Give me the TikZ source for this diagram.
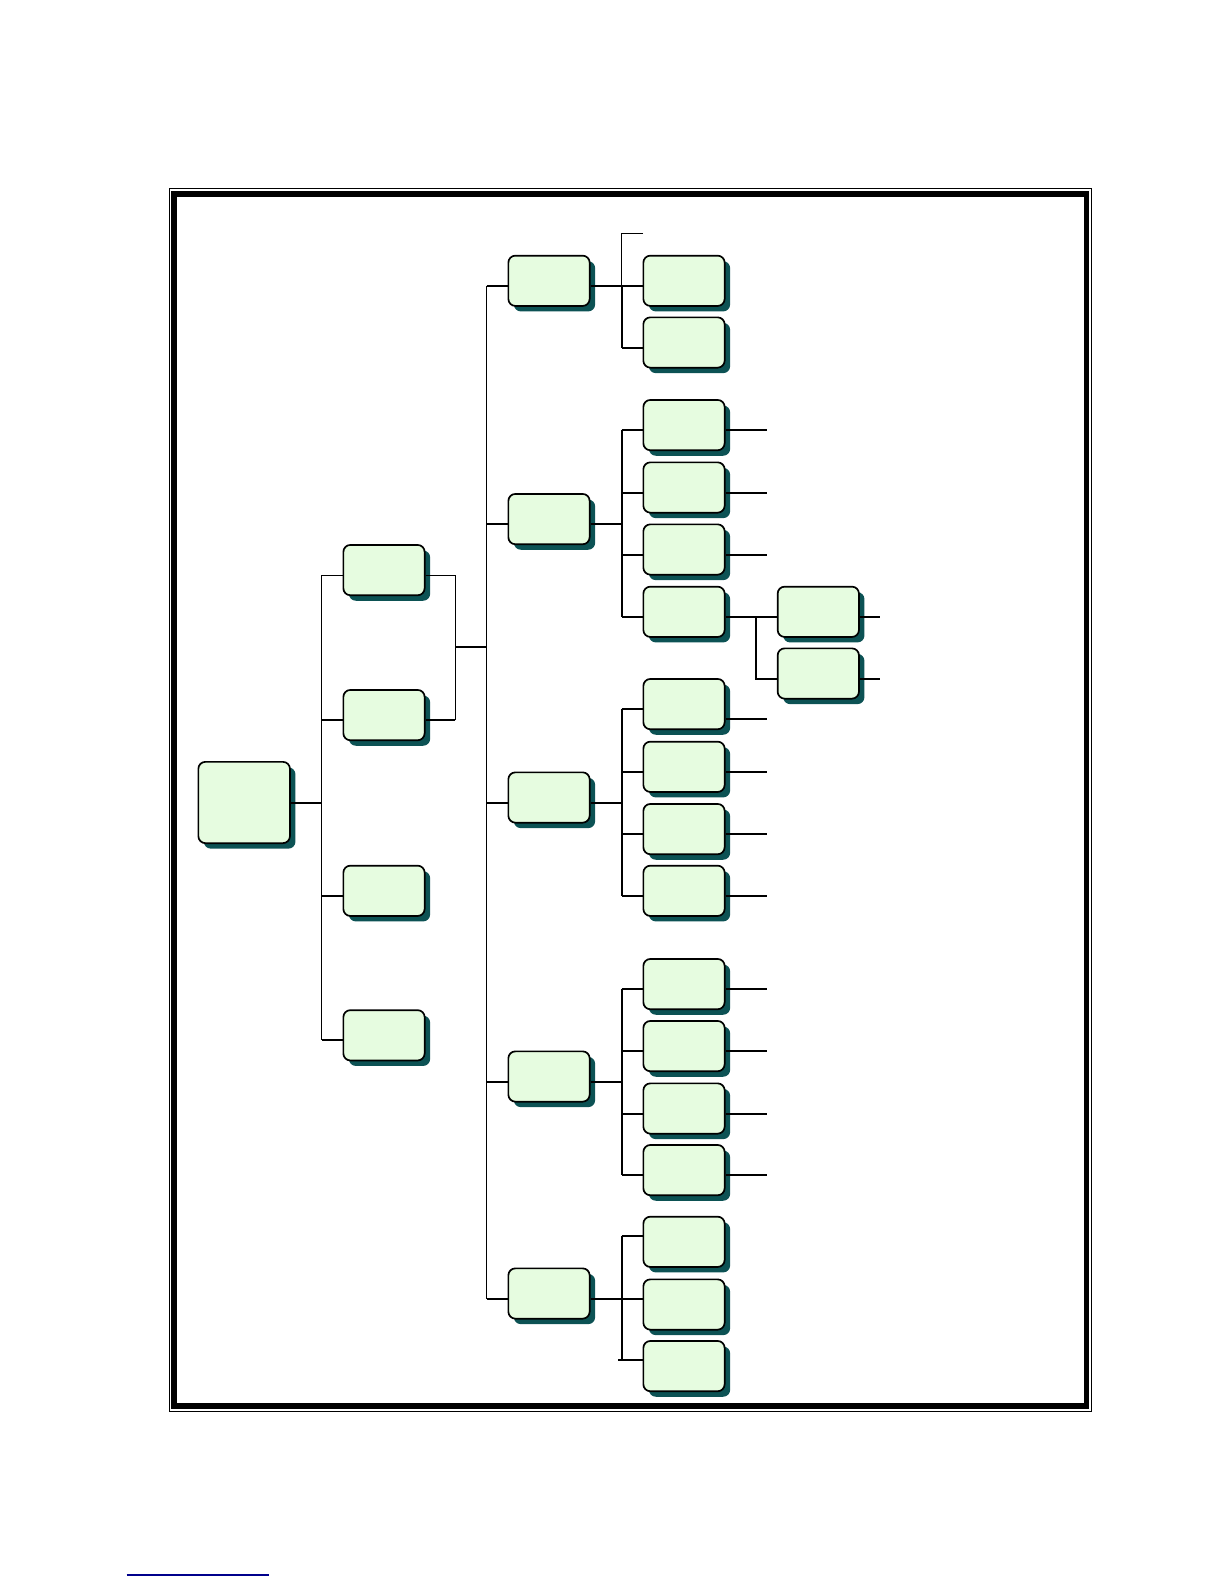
\documentclass[tikz,border=0pt]{standalone}
\usetikzlibrary{shadows}
\definecolor{boxfill}{RGB}{230,252,224}
\definecolor{shadowc}{RGB}{12,82,84}
\definecolor{linkblue}{RGB}{0,0,140}
\tikzset{
  box/.style={draw=black, line width=1.7pt, fill=boxfill, rounded corners=7pt,
    minimum width=81.3pt, minimum height=50.3pt, inner sep=0pt, anchor=north west,
    drop shadow={shadow xshift=5.5pt, shadow yshift=-5.5pt, fill=shadowc, draw=none, opacity=1}},
  conn/.style={line width=2pt},
  thinc/.style={line width=1.2pt},
}
\begin{document}
\begin{tikzpicture}[x=1pt,y=-1pt]
\useasboundingbox (0,0) rectangle (1224,1584);
% frame
\draw[line width=1pt] (169.5,188.5) rectangle (1091,1411.5);
\draw[line width=5.6pt] (173.9,193.7) rectangle (1086.4,1406.2);
% link underline
\draw[linkblue, line width=1.3pt] (126.7,1575) -- (269,1575);

% spine x positions
\coordinate (x1) at (321.7,0);
\coordinate (xm) at (455.3,0);
\coordinate (x2) at (486.7,0);
\coordinate (x3) at (621.5,0);
\coordinate (x4) at (755.7,0);
\coordinate (xt) at (767,0);
\coordinate (xt4) at (880,0);

% root
\node[box, minimum width=91.6pt, minimum height=81.3pt] (root) at (197.5,761) {};

% level 1
\node[box] (L1a) at (342.5,544.1) {};
\node[box] (L1b) at (342.5,689.1) {};
\node[box] (L1c) at (342.5,864.8) {};
\node[box] (L1d) at (342.5,1009.3) {};
\foreach \n in {L1a,L1b,L1c,L1d}{
  \coordinate (\n-w) at ([yshift=-5pt]\n.west);
  \coordinate (\n-e) at ([yshift=-5pt]\n.east);
}

% level 2
\node[box] (L2a) at (507.5,254.8) {};
\node[box] (L2b) at (507.5,493.1) {};
\node[box] (L2c) at (507.5,771.5) {};
\node[box] (L2d) at (507.5,1050.5) {};
\node[box] (L2e) at (507.5,1267.5) {};
\foreach \n in {L2a,L2b,L2c,L2d,L2e}{
  \coordinate (\n-w) at ([yshift=-5pt]\n.west);
  \coordinate (\n-e) at ([yshift=-5pt]\n.east);
}

% leaves
\node[box] (A1) at (642.5,254.8) {};
\node[box] (A2) at (642.5,316.5) {};
\node[box] (B1) at (642.5,399.1) {};
\node[box] (B2) at (642.5,461.5) {};
\node[box] (B3) at (642.5,523.5) {};
\node[box] (B4) at (642.5,585.8) {};
\node[box] (C1) at (642.5,678.1) {};
\node[box] (C2) at (642.5,740.8) {};
\node[box] (C3) at (642.5,803.1) {};
\node[box] (C4) at (642.5,864.8) {};
\node[box] (D1) at (642.5,958.1) {};
\node[box] (D2) at (642.5,1020.1) {};
\node[box] (D3) at (642.5,1082.5) {};
\node[box] (D4) at (642.5,1144.1) {};
\node[box] (E1) at (642.5,1215.8) {};
\node[box] (E2) at (642.5,1278.5) {};
\node[box] (E3) at (642.5,1340.1) {};
\foreach \n in {A1,A2,B1,B2,B3,B4,C1,C2,C3,C4,D1,D2,D3,D4}{
  \coordinate (\n-w) at ([yshift=-5pt]\n.west);
  \coordinate (\n-e) at ([yshift=-5pt]\n.east);
}
\foreach \n in {E1,E2,E3}{
  \coordinate (\n-w) at ([yshift=6pt]\n.west);
}
\coordinate (C1-t) at ([yshift=-15pt]C1.east);

% level 4
\node[box] (F1) at (776.8,585.8) {};
\node[box] (F2) at (776.8,647.5) {};
\foreach \n in {F1,F2}{
  \coordinate (\n-w) at ([yshift=-5pt]\n.west);
  \coordinate (\n-e) at ([yshift=-5pt]\n.east);
}

% root to level 1
\draw[conn] (root.east) -- (root.east -| x1);
\draw[thinc] (x1 |- L1a-w) -- (x1 |- L1d-w);
\draw[thinc] (x1 |- L1a-w) -- (L1a-w);
\foreach \n in {L1b,L1c,L1d} \draw[conn] (x1 |- \n-w) -- (\n-w);

% merge of level 1 boxes into level 2 spine
\coordinate (mid) at (455.3,646.7);
\draw[thinc] (L1a-e) -- (xm |- L1a-e) -- (xm |- L1b-e);
\draw[conn] (xm |- L1b-e) -- (L1b-e);
\draw[conn] (mid) -- (mid -| x2);

% level 2 spine
\draw[thinc] (x2 |- L2a-w) -- (x2 |- L2e-w);
\foreach \n in {L2a,L2b,L2c,L2d,L2e}{
  \draw[conn] (x2 |- \n-w) -- (\n-w);
  \draw[conn] (\n-e) -- (\n-e -| x3);
}

% group A
\coordinate (Astub) at (643,233.3);
\draw[thinc] (Astub) -- (Astub -| x3) -- (x3 |- A1-w);
\draw[conn] (x3 |- A1-w) -- (x3 |- A2-w);
\foreach \n in {A1,A2} \draw[conn] (x3 |- \n-w) -- (\n-w);

% group B
\draw[conn] (x3 |- B1-w) -- (x3 |- B4-w);
\foreach \n in {B1,B2,B3,B4} \draw[conn] (x3 |- \n-w) -- (\n-w);
\foreach \n in {B1,B2,B3} \draw[conn] (\n-e) -- (\n-e -| xt);
\draw[conn] (B4-e) -- (F1-w);
\draw[conn] (x4 |- B4-e) -- (x4 |- F2-w) -- (F2-w);
\foreach \n in {F1,F2} \draw[conn] (\n-e) -- (\n-e -| xt4);

% group C
\draw[conn] (x3 |- C1-w) -- (x3 |- C4-w);
\foreach \n in {C1,C2,C3,C4} \draw[conn] (x3 |- \n-w) -- (\n-w);
\draw[conn] (C1-t) -- (C1-t -| xt);
\foreach \n in {C2,C3,C4} \draw[conn] (\n-e) -- (\n-e -| xt);

% group D
\draw[conn] (x3 |- D1-w) -- (x3 |- D4-w);
\foreach \n in {D1,D2,D3,D4} \draw[conn] (x3 |- \n-w) -- (\n-w);
\foreach \n in {D1,D2,D3,D4} \draw[conn] (\n-e) -- (\n-e -| xt);

% group E
\draw[conn] (x3 |- E1-w) -- (x3 |- E3-w);
\foreach \n in {E1,E2} \draw[conn] (x3 |- \n-w) -- (\n-w);
\draw[conn] ([xshift=-3.5pt]x3 |- E3-w) -- (E3-w);
\end{tikzpicture}
\end{document}
